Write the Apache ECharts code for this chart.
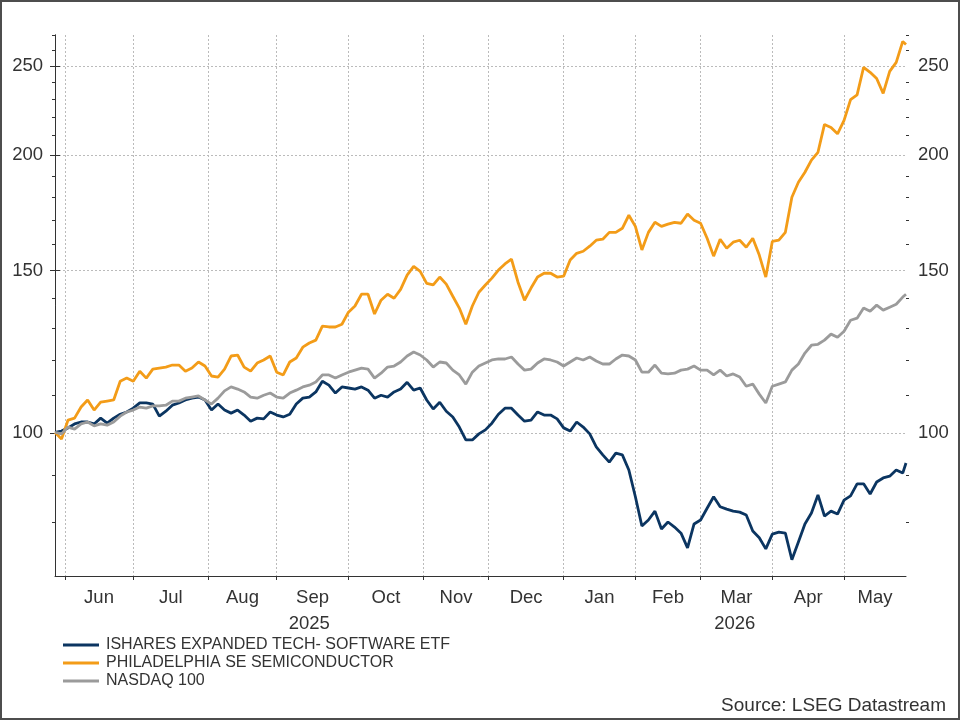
<!DOCTYPE html>
<html>
<head>
<meta charset="utf-8">
<title>Software vs semiconductors</title>
<script src="https://cdn.jsdelivr.net/npm/echarts@6/dist/echarts.min.js"></script>
<style>
  html, body { margin: 0; padding: 0; background: #fff; }
  #chart { position: absolute; left: 0; top: 0; width: 960px; height: 720px; }
  /* grey frame round the picture */
  #frame { position: absolute; left: 0; top: 0; width: 960px; height: 720px; box-sizing: border-box; border: 2px solid #4d4d4d; pointer-events: none; }
</style>
</head>
<body>
<div id="chart"></div>
<div id="frame"></div>
<script>
// index levels rebased to 100, one reading every second trading day, last one is the final day
const software = [
  100.2, 100.5, 101.3, 102.3, 102.8, 102.8, 102.3, 103.8, 102.5, 103.8,
  104.8, 105.4, 106.4, 107.8, 107.8, 107.5, 104.3, 105.6, 107.2, 107.8,
  108.6, 109.1, 109.4, 108.6, 105.9, 107.5, 105.9, 105.1, 105.9, 104.6,
  103.0, 103.8, 103.6, 105.4, 104.6, 104.1, 104.8, 107.5, 109.1, 109.4,
  110.8, 113.8, 112.7, 110.5, 112.2, 111.9, 111.6, 112.2, 111.3, 109.1,
  109.9, 109.4, 110.8, 111.6, 113.5, 111.3, 111.9, 108.6, 106.2, 108.0,
  105.6, 104.1, 101.5, 98.3, 98.3, 99.8, 100.8, 102.5, 104.8, 106.4,
  106.4, 104.6, 103.0, 103.3, 105.4, 104.6, 104.6, 103.6, 101.3, 100.5,
  102.8, 101.5, 99.8, 96.6, 94.7, 93.0, 95.1, 94.7, 91.2, 85.3,
  79.3, 80.5, 82.3, 78.7, 80.1, 79.1, 77.9, 75.1, 79.7, 80.5,
  82.9, 85.3, 83.2, 82.7, 82.3, 82.1, 81.5, 78.3, 77.0, 74.9,
  77.7, 78.1, 77.9, 72.9, 76.2, 79.7, 81.9, 85.7, 81.3, 82.3,
  81.7, 84.6, 85.5, 88.1, 88.1, 85.9, 88.5, 89.4, 89.8, 91.2,
  90.5, 92.8
];
const semis = [
  100.2, 98.5, 103.3, 103.8, 106.7, 108.6, 105.9, 108.0, 108.3, 108.6,
  113.8, 114.7, 113.8, 116.7, 114.7, 117.3, 117.6, 117.9, 118.5, 118.5,
  116.7, 117.6, 119.4, 118.2, 115.3, 115.0, 117.3, 121.2, 121.5, 117.9,
  116.7, 119.1, 120.0, 121.2, 116.4, 115.6, 119.4, 120.6, 123.9, 125.2,
  126.1, 130.6, 130.3, 130.3, 131.2, 135.2, 137.3, 141.4, 141.4, 134.6,
  139.3, 141.4, 140.0, 143.1, 148.3, 151.6, 149.7, 145.3, 144.7, 147.6,
  145.0, 140.7, 136.6, 131.2, 137.3, 142.1, 144.7, 147.2, 150.2, 152.5,
  154.3, 145.7, 139.3, 143.6, 147.6, 149.0, 149.0, 147.6, 147.9, 154.0,
  156.6, 157.4, 159.4, 161.8, 162.2, 165.0, 165.0, 166.7, 172.2, 167.5,
  157.9, 165.0, 169.2, 167.5, 168.4, 169.2, 168.8, 172.7, 170.1, 168.8,
  162.6, 155.5, 162.2, 158.6, 161.0, 161.8, 159.0, 162.6, 155.9, 147.6,
  161.3, 161.8, 165.0, 180.1, 187.0, 191.7, 197.6, 201.5, 216.0, 214.4,
  211.0, 218.2, 229.8, 232.5, 249.1, 246.0, 242.2, 233.4, 246.6, 252.2,
  265.7, 263.7
];
const nasdaq = [
  100.2, 99.8, 101.5, 101.0, 102.3, 102.8, 101.8, 102.3, 102.0, 102.8,
  104.3, 105.4, 105.9, 106.7, 106.4, 107.0, 107.0, 107.2, 108.3, 108.3,
  109.1, 109.4, 109.7, 108.6, 107.5, 109.1, 111.1, 112.2, 111.6, 110.8,
  109.4, 109.1, 109.9, 110.5, 109.4, 109.1, 110.5, 111.3, 112.2, 112.7,
  113.6, 115.6, 115.6, 114.7, 115.6, 116.4, 117.0, 117.6, 117.3, 114.7,
  116.1, 117.9, 118.2, 119.4, 121.2, 122.4, 121.5, 120.0, 117.9, 119.4,
  119.1, 117.0, 115.6, 113.0, 116.4, 118.2, 119.1, 120.0, 120.3, 120.3,
  120.9, 118.8, 117.0, 117.3, 119.1, 120.3, 120.0, 119.4, 118.2, 119.4,
  120.6, 120.0, 120.9, 119.7, 118.8, 118.8, 120.3, 121.5, 121.2, 120.0,
  116.4, 116.4, 118.5, 116.1, 115.9, 116.1, 117.0, 117.3, 118.2, 117.0,
  117.0, 115.6, 117.0, 115.3, 115.9, 115.0, 112.4, 113.0, 110.2, 107.8,
  112.4, 113.0, 113.6, 117.0, 118.8, 122.1, 124.5, 124.8, 126.1, 128.0,
  127.0, 128.9, 132.5, 133.2, 136.6, 135.5, 137.6, 135.9, 136.9, 137.9,
  140.4, 141.4
];
const seriesNames = ['ISHARES EXPANDED TECH- SOFTWARE ETF', 'PHILADELPHIA SE SEMICONDUCTOR', 'NASDAQ 100'];
const seriesColors = ['#0b3561', '#f39c18', '#9b9b9b'];
const yTicks = [100, 150, 200, 250];
const yMinorTicks = [80, 90, 110, 120, 130, 140, 160, 170, 180, 190, 210, 220, 230, 240, 260, 270];
const monthNames = ['Jan', 'Feb', 'Mar', 'Apr', 'May', 'Jun', 'Jul', 'Aug', 'Sep', 'Oct', 'Nov', 'Dec'];

// trading days (Mon-Fri), 28 May 2025 .. 28 May 2026 - the x axis counts these
const days = [];
for (let d = new Date(Date.UTC(2025, 4, 28)); d <= new Date(Date.UTC(2026, 4, 28)); d.setUTCDate(d.getUTCDate() + 1)) {
  const wd = d.getUTCDay();
  if (wd !== 0 && wd !== 6) days.push(new Date(d));
}
const last = days.length - 1;
const sampleIdx = software.map((_, k) => Math.min(2 * k, last));

// first trading day of each month -> ticks and grid lines
const monthStarts = [];
const yearStarts = [0];
for (let i = 1; i < days.length; i++) {
  if (days[i].getUTCMonth() !== days[i - 1].getUTCMonth()) monthStarts.push(i);
  if (days[i].getUTCFullYear() !== days[i - 1].getUTCFullYear()) yearStarts.push(i);
}
// month names sit in the middle of each month, years in the middle of their part
const monthMids = monthStarts.map((s, j) => (s + (j + 1 < monthStarts.length ? monthStarts[j + 1] : last)) / 2);
const yearMids = yearStarts.map((s, j) => (s + (j + 1 < yearStarts.length ? yearStarts[j + 1] : last)) / 2);

const font = '"Liberation Sans", Arial, Helvetica, sans-serif';
const ink = '#333';
const labelSize = 18.5;

const chart = echarts.init(document.getElementById('chart'), null, { renderer: 'canvas' });

const yBase = { type: 'log', logBase: 10, min: 70, max: 270 };
const xBase = { type: 'value', min: 0, max: last };

chart.setOption({
  animation: false,
  textStyle: { fontFamily: font },
  title: {
    text: 'Source: LSEG Datastream',
    right: 14,
    top: 696,
    padding: 0,
    textStyle: { fontSize: 19, fontWeight: 'normal', color: ink, fontFamily: font }
  },
  legend: {
    orient: 'vertical',
    left: 63,
    top: 637,
    padding: 0,
    itemGap: 2,
    itemWidth: 36,
    itemHeight: 3,
    icon: 'rect',
    data: seriesNames,
    textStyle: { fontSize: 16, color: ink, fontFamily: font, padding: [0, 0, 0, 2] }
  },
  grid: { left: 55, right: 54, top: 35, bottom: 144, outerBoundsMode: 'none' },
  xAxis: [
    {
      ...xBase,
      position: 'bottom',
      axisLine: { show: true, lineStyle: { color: ink, width: 1 } },
      axisTick: { show: true, length: 4, customValues: monthStarts, lineStyle: { color: ink } },
      axisLabel: {
        customValues: monthMids,
        margin: 12,
        fontSize: labelSize,
        color: ink,
        fontFamily: font,
        formatter: v => monthNames[days[Math.round(v)].getUTCMonth()]
      },
      splitLine: { show: true, lineStyle: { type: [2, 2], color: '#bbb', width: 1 } }
    },
    {
      ...xBase,
      position: 'bottom',
      axisLine: { show: false },
      axisTick: { show: false },
      splitLine: { show: false },
      axisLabel: {
        customValues: yearMids,
        margin: 38,
        fontSize: labelSize,
        color: ink,
        fontFamily: font,
        formatter: v => String(days[Math.round(v)].getUTCFullYear())
      }
    }
  ],
  yAxis: [
    {
      ...yBase,
      position: 'left',
      axisLine: { show: true, lineStyle: { color: ink, width: 1 } },
      axisTick: { show: true, length: 5, customValues: yTicks, lineStyle: { color: ink } },
      axisLabel: { customValues: yTicks, margin: 12, fontSize: labelSize, color: ink, fontFamily: font },
      splitLine: { show: true, lineStyle: { type: [2, 2], color: '#bbb', width: 1 } }
    },
    {
      ...yBase,
      position: 'right',
      axisLine: { show: true, lineStyle: { color: ink, width: 1 } },
      axisTick: { show: true, length: 5, customValues: yTicks, lineStyle: { color: ink } },
      axisLabel: { customValues: yTicks, margin: 12, fontSize: labelSize, color: ink, fontFamily: font },
      splitLine: { show: false }
    },
    // minor ticks, shorter
    {
      ...yBase,
      position: 'left',
      axisLine: { show: false },
      axisTick: { show: true, length: 3, customValues: yMinorTicks, lineStyle: { color: ink } },
      axisLabel: { show: false },
      splitLine: { show: false }
    },
    {
      ...yBase,
      position: 'right',
      axisLine: { show: false },
      axisTick: { show: true, length: 3, customValues: yMinorTicks, lineStyle: { color: ink } },
      axisLabel: { show: false },
      splitLine: { show: false }
    }
  ],
  series: [software, semis, nasdaq].map((vals, s) => ({
    name: seriesNames[s],
    type: 'line',
    xAxisIndex: 0,
    yAxisIndex: 0,
    showSymbol: false,
    symbol: 'none',
    data: vals.map((v, k) => [sampleIdx[k], v]),
    lineStyle: { width: 2.8, color: seriesColors[s] },
    itemStyle: { color: seriesColors[s] }
  }))
});
</script>
</body>
</html>
